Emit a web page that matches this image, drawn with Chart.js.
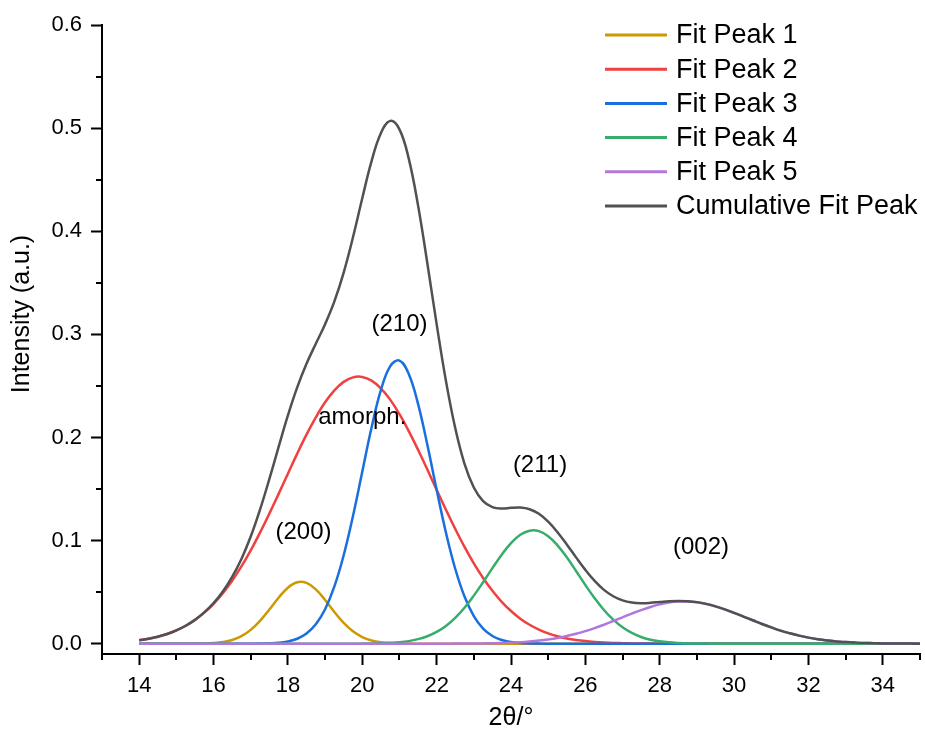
<!DOCTYPE html>
<html>
<head>
<meta charset="utf-8">
<script src="https://cdn.jsdelivr.net/npm/chart.js@4/dist/chart.umd.min.js"></script>
<style>
  html, body { margin: 0; padding: 0; background: #fff; }
  #wrap { width: 925px; height: 729px; }
</style>
</head>
<body>
<div id="wrap"><canvas id="xrd" width="925" height="729"></canvas></div>
<script>
// 2θ positions of the fitted curves
const theta = [
  14, 14.25, 14.5, 14.75, 15, 15.25, 15.5, 15.75, 16, 16.25, 16.5, 16.75,
  17, 17.25, 17.5, 17.75, 18, 18.25, 18.5, 18.75, 19, 19.25, 19.5, 19.75,
  20, 20.25, 20.5, 20.75, 21, 21.25, 21.5, 21.75, 22, 22.25, 22.5, 22.75,
  23, 23.25, 23.5, 23.75, 24, 24.25, 24.5, 24.75, 25, 25.25, 25.5, 25.75,
  26, 26.25, 26.5, 26.75, 27, 27.25, 27.5, 27.75, 28, 28.25, 28.5, 28.75,
  29, 29.25, 29.5, 29.75, 30, 30.25, 30.5, 30.75, 31, 31.25, 31.5, 31.75,
  32, 32.25, 32.5, 32.75, 33, 33.25, 33.5, 33.75, 34, 34.25, 34.5, 34.75, 35
];

// (200)
const peak1 = [
  0, 0, 0, 0,  0, 0, 0.0001, 0.0002,
  0.0006, 0.0016, 0.0036, 0.0073,  0.0134, 0.0222, 0.0331, 0.0446,
  0.0543, 0.0595, 0.0589, 0.0526,  0.0424, 0.0308, 0.0202, 0.0120,
  0.0064, 0.0031, 0.0013, 0.0005,  0.0002, 0.0001, 0, 0,
  0, 0, 0, 0,  0, 0, 0, 0,  0, 0, 0, 0,  0, 0, 0, 0,
  0, 0, 0, 0,  0, 0, 0, 0,  0, 0, 0, 0,  0, 0, 0, 0,
  0, 0, 0, 0,  0, 0, 0, 0,  0, 0, 0, 0,  0, 0, 0, 0,
  0, 0, 0, 0,  0
];

// amorphous halo
const peak2 = [
  0.0033, 0.0048, 0.0068, 0.0094,  0.0129, 0.0174, 0.0230, 0.0301,
  0.0387, 0.0490, 0.0611, 0.0749,  0.0905, 0.1077, 0.1261, 0.1453,
  0.1649, 0.1843, 0.2027, 0.2195,  0.2341, 0.2457, 0.2539, 0.2583,
  0.2587, 0.2551, 0.2476, 0.2367,  0.2226, 0.2062, 0.1881, 0.1689,
  0.1492, 0.1299, 0.1113, 0.0938,  0.0779, 0.0637, 0.0513, 0.0406,
  0.0317, 0.0243, 0.0184, 0.0137,  0.0100, 0.0072, 0.0051, 0.0036,
  0.0025, 0.0017, 0.0011, 0.0007,  0.0005, 0.0003, 0.0002, 0.0001,
  0, 0, 0, 0,  0, 0, 0, 0,  0, 0, 0, 0,  0, 0, 0, 0,
  0, 0, 0, 0,  0, 0, 0, 0,  0, 0, 0, 0,  0
];

// (210)
const peak3 = [
  0, 0, 0, 0,  0, 0, 0, 0,  0, 0, 0, 0,
  0, 0.0001, 0.0004, 0.0009,  0.0022, 0.0048, 0.0099, 0.0188,
  0.0334, 0.0555, 0.0858, 0.1238,  0.1668, 0.2096, 0.2458, 0.2690,
  0.2746, 0.2616, 0.2326, 0.1929,  0.1493, 0.1078, 0.0727, 0.0457,
  0.0268, 0.0147, 0.0075, 0.0036,  0.0016, 0.0007, 0.0003, 0.0001,
  0, 0, 0, 0,  0, 0, 0, 0,  0, 0, 0, 0,  0, 0, 0, 0,
  0, 0, 0, 0,  0, 0, 0, 0,  0, 0, 0, 0,  0, 0, 0, 0,
  0, 0, 0, 0,  0, 0, 0, 0,  0
];

// (211)
const peak4 = [
  0, 0, 0, 0,  0, 0, 0, 0,  0, 0, 0, 0,
  0, 0, 0, 0,  0, 0, 0, 0,  0, 0, 0, 0,
  0.0001, 0.0002, 0.0004, 0.0008,  0.0014, 0.0025, 0.0044, 0.0072,
  0.0114, 0.0172, 0.0250, 0.0348,  0.0466, 0.0596, 0.0733, 0.0863,
  0.0975, 0.1056, 0.1096, 0.1092,  0.1042, 0.0954, 0.0838, 0.0705,
  0.0569, 0.0441, 0.0327, 0.0233,  0.0159, 0.0104, 0.0065, 0.0039,
  0.0023, 0.0013, 0.0007, 0.0003,  0.0002, 0.0001, 0, 0,
  0, 0, 0, 0,  0, 0, 0, 0,  0, 0, 0, 0,  0, 0, 0, 0,  0, 0, 0, 0,
  0
];

// (002)
const peak5 = [
  0, 0, 0, 0,  0, 0, 0, 0,  0, 0, 0, 0,  0, 0, 0, 0,
  0, 0, 0, 0,  0, 0, 0, 0,  0, 0, 0, 0,  0, 0, 0, 0,
  0, 0, 0.0001, 0.0001,  0.0002, 0.0003, 0.0004, 0.0006,
  0.0010, 0.0014, 0.0021, 0.0030,  0.0041, 0.0055, 0.0074, 0.0096,
  0.0122, 0.0151, 0.0184, 0.0220,  0.0256, 0.0292, 0.0326, 0.0356,
  0.0381, 0.0399, 0.0408, 0.0409,  0.0401, 0.0385, 0.0362, 0.0333,
  0.0299, 0.0263, 0.0227, 0.0191,  0.0158, 0.0127, 0.0101, 0.0078,
  0.0059, 0.0044, 0.0032, 0.0022,  0.0016, 0.0011, 0.0007, 0.0005,
  0.0003, 0.0002, 0.0001, 0.0001,  0
];

// sum of the five fitted peaks
const cumulative = [
  0.0033, 0.0048, 0.0068, 0.0094,  0.0129, 0.0174, 0.0231, 0.0303,
  0.0393, 0.0506, 0.0647, 0.0822,  0.1039, 0.1300, 0.1596, 0.1908,
  0.2214, 0.2486, 0.2715, 0.2909,  0.3099, 0.3320, 0.3599, 0.3941,
  0.4320, 0.4680, 0.4951, 0.5070,  0.4988, 0.4704, 0.4251, 0.3690,
  0.3099, 0.2549, 0.2091, 0.1744,  0.1515, 0.1383, 0.1325, 0.1311,
  0.1318, 0.1320, 0.1304, 0.1260,  0.1183, 0.1081, 0.0963, 0.0837,
  0.0716, 0.0609, 0.0522, 0.0460,  0.0420, 0.0399, 0.0393, 0.0396,
  0.0404, 0.0412, 0.0415, 0.0412,  0.0403, 0.0386, 0.0362, 0.0333,
  0.0299, 0.0263, 0.0227, 0.0191,  0.0158, 0.0127, 0.0101, 0.0078,
  0.0059, 0.0044, 0.0032, 0.0022,  0.0016, 0.0011, 0.0007, 0.0005,
  0.0003, 0.0002, 0.0001, 0.0001,  0
];

const seriesNames = ['Fit Peak 1', 'Fit Peak 2', 'Fit Peak 3', 'Fit Peak 4', 'Fit Peak 5', 'Cumulative Fit Peak'];
const xTicks = [14, 16, 18, 20, 22, 24, 26, 28, 30, 32, 34];
const xMinorTicks = [13, 15, 17, 19, 21, 23, 25, 27, 29, 31, 33, 35];
const yTicks = [0, 0.1, 0.2, 0.3, 0.4, 0.5, 0.6];
const yMinorTicks = [0.05, 0.15, 0.25, 0.35, 0.45, 0.55];
const peakLabels = ['(200)', 'amorph.', '(210)', '(211)', '(002)'];
const peakLabelAt = [[18.42, 0.1076], [20.0, 0.219], [21.0, 0.31], [24.78, 0.1725], [29.11, 0.093]];

const FONT = "'Liberation Sans', Arial, sans-serif";
const colors = ['#CC9900', '#F14040', '#1A6FDF', '#37AD6B', '#B177DE', '#515151'];
const allSeries = [peak1, peak2, peak3, peak4, peak5, cumulative];

const datasets = allSeries.map((vals, i) => ({
  label: seriesNames[i],
  data: vals.map((v, k) => ({ x: theta[k], y: v })),
  borderColor: colors[i],
  borderWidth: 2.5,
  pointRadius: 0,
  fill: false,
  tension: 0.4,
  order: allSeries.length - 1 - i
}));

// minor ticks, peak labels, legend and axis titles
const decorations = {
  id: 'decorations',
  afterDraw(chart) {
    const { ctx, chartArea, scales } = chart;
    const xs = scales.x, ys = scales.y;
    ctx.save();
    ctx.strokeStyle = '#000';
    ctx.lineWidth = 2;
    xMinorTicks.forEach(v => {
      const px = Math.round(xs.getPixelForValue(v));
      ctx.beginPath();
      ctx.moveTo(px, chartArea.bottom);
      ctx.lineTo(px, chartArea.bottom + 6);
      ctx.stroke();
    });
    yMinorTicks.forEach(v => {
      const py = Math.round(ys.getPixelForValue(v));
      ctx.beginPath();
      ctx.moveTo(chartArea.left, py);
      ctx.lineTo(chartArea.left - 6, py);
      ctx.stroke();
    });

    ctx.fillStyle = '#000';
    ctx.font = '24px ' + FONT;
    ctx.textAlign = 'center';
    ctx.textBaseline = 'middle';
    peakLabels.forEach((t, i) => {
      const [vx, vy] = peakLabelAt[i];
      ctx.fillText(t, xs.getPixelForValue(vx), ys.getPixelForValue(vy));
    });

    // legend
    ctx.font = '27px ' + FONT;
    ctx.textAlign = 'left';
    chart.data.datasets.forEach((ds, i) => {
      const y = 35 + i * 34.2;
      ctx.strokeStyle = ds.borderColor;
      ctx.lineWidth = 3;
      ctx.beginPath();
      ctx.moveTo(605, y);
      ctx.lineTo(667, y);
      ctx.stroke();
      ctx.fillText(ds.label, 676, y + 1);
    });

    // axis titles
    ctx.font = '25px ' + FONT;
    ctx.textAlign = 'center';
    ctx.textBaseline = 'alphabetic';
    ctx.fillText('2θ/°', (chartArea.left + chartArea.right) / 2, 725);
    ctx.translate(22, 314);
    ctx.rotate(-Math.PI / 2);
    ctx.textBaseline = 'middle';
    ctx.fillText('Intensity (a.u.)', 0, 0);
    ctx.restore();
  }
};

new Chart(document.getElementById('xrd'), {
  type: 'line',
  data: { datasets },
  plugins: [decorations],
  options: {
    responsive: false,
    animation: false,
    devicePixelRatio: 1,
    layout: { padding: { top: 25, right: 5, left: 0, bottom: 0 } },
    plugins: { legend: { display: false }, tooltip: { enabled: false } },
    scales: {
      x: {
        type: 'linear',
        min: 13,
        max: 35,
        afterBuildTicks: s => { s.ticks = xTicks.map(v => ({ value: v })); },
        afterFit: s => { s.height = 75; },
        border: { display: true, color: '#000', width: 2 },
        grid: { drawOnChartArea: false, drawTicks: true, tickLength: 11, tickColor: '#000', tickWidth: 2 },
        ticks: { color: '#000', font: { family: FONT, size: 22 }, padding: 8, maxRotation: 0 }
      },
      y: {
        min: -0.01,
        max: 0.6,
        afterBuildTicks: s => { s.ticks = yTicks.map(v => ({ value: v })); },
        afterFit: s => { s.width = 102; },
        border: { display: true, color: '#000', width: 2 },
        grid: { drawOnChartArea: false, drawTicks: true, tickLength: 11, tickColor: '#000', tickWidth: 2 },
        ticks: { color: '#000', font: { family: FONT, size: 22 }, padding: 9, callback: v => v.toFixed(1) }
      }
    }
  }
});
</script>
</body>
</html>
